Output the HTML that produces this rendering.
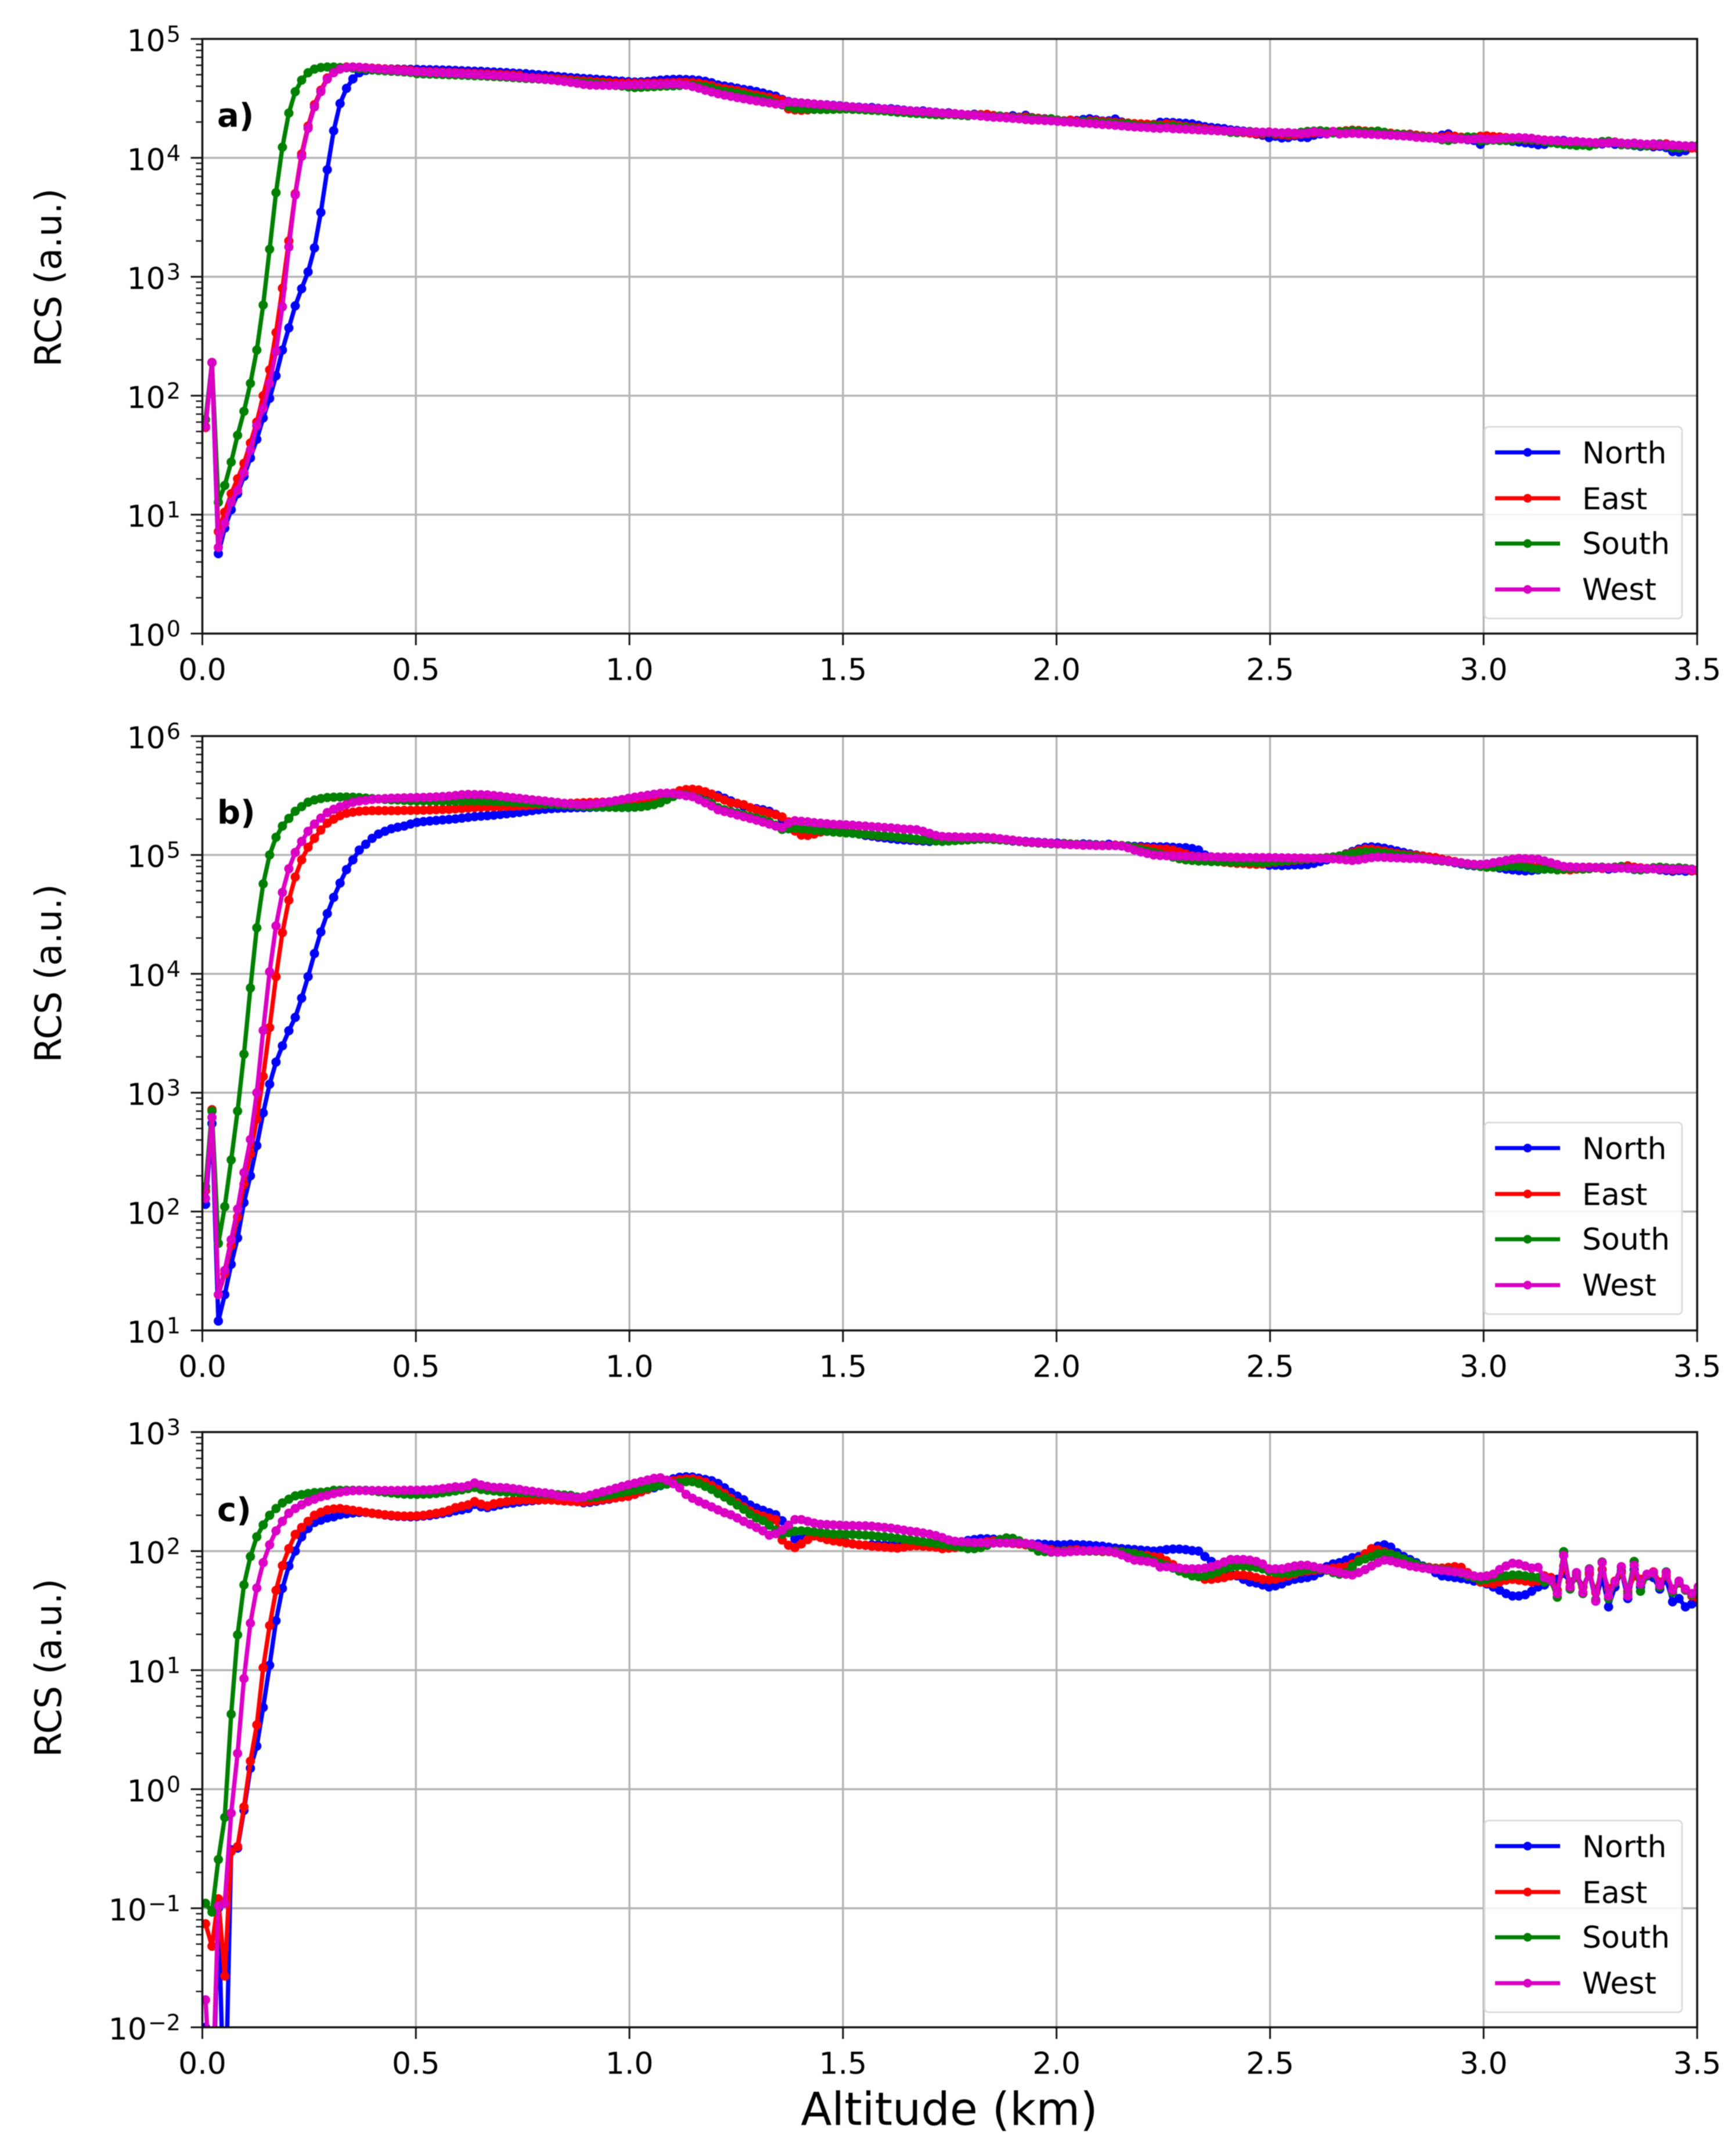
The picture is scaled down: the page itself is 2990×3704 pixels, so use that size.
<!DOCTYPE html>
<html lang="en">
<head>
<meta charset="utf-8">
<title>RCS versus altitude for four pointing directions</title>
<style>
html,body{margin:0;padding:0;background:#fff;width:2990px;height:3704px;overflow:hidden;}
#figure{display:block;width:2990px;height:3704px;overflow:hidden;filter:blur(0.7px);font-family:"DejaVu Sans","Liberation Sans",sans-serif;}
</style>
</head>
<body>
<svg id="figure" xmlns="http://www.w3.org/2000/svg" width="2990" height="3704" viewBox="0 0 2990 3704">
<rect x="0" y="0" width="2990" height="3704" fill="#ffffff"/>
<g id="panels"></g>
<text x="1635" y="3659" font-size="78" text-anchor="middle" fill="#000">Altitude (km)</text>
</svg>
<script>
const altitudesM = [
7.5,22.5,37.5,52.5,67.5,82.5,97.5,112.5,127.5,142.5,157.5,172.5,187.5,202.5,217.5,232.5,247.5,262.5,277.5,292.5,
307.5,322.5,337.5,352.5,367.5,382.5,397.5,412.5,427.5,442.5,457.5,472.5,487.5,502.5,517.5,532.5,547.5,562.5,577.5,592.5,
607.5,622.5,637.5,652.5,667.5,682.5,697.5,712.5,727.5,742.5,757.5,772.5,787.5,802.5,817.5,832.5,847.5,862.5,877.5,892.5,
907.5,922.5,937.5,952.5,967.5,982.5,997.5,1012.5,1027.5,1042.5,1057.5,1072.5,1087.5,1102.5,1117.5,1132.5,1147.5,1162.5,1177.5,1192.5,
1207.5,1222.5,1237.5,1252.5,1267.5,1282.5,1297.5,1312.5,1327.5,1342.5,1357.5,1372.5,1387.5,1402.5,1417.5,1432.5,1447.5,1462.5,1477.5,1492.5,
1507.5,1522.5,1537.5,1552.5,1567.5,1582.5,1597.5,1612.5,1627.5,1642.5,1657.5,1672.5,1687.5,1702.5,1717.5,1732.5,1747.5,1762.5,1777.5,1792.5,
1807.5,1822.5,1837.5,1852.5,1867.5,1882.5,1897.5,1912.5,1927.5,1942.5,1957.5,1972.5,1987.5,2002.5,2017.5,2032.5,2047.5,2062.5,2077.5,2092.5,
2107.5,2122.5,2137.5,2152.5,2167.5,2182.5,2197.5,2212.5,2227.5,2242.5,2257.5,2272.5,2287.5,2302.5,2317.5,2332.5,2347.5,2362.5,2377.5,2392.5,
2407.5,2422.5,2437.5,2452.5,2467.5,2482.5,2497.5,2512.5,2527.5,2542.5,2557.5,2572.5,2587.5,2602.5,2617.5,2632.5,2647.5,2662.5,2677.5,2692.5,
2707.5,2722.5,2737.5,2752.5,2767.5,2782.5,2797.5,2812.5,2827.5,2842.5,2857.5,2872.5,2887.5,2902.5,2917.5,2932.5,2947.5,2962.5,2977.5,2992.5,
3007.5,3022.5,3037.5,3052.5,3067.5,3082.5,3097.5,3112.5,3127.5,3142.5,3157.5,3172.5,3187.5,3202.5,3217.5,3232.5,3247.5,3262.5,3277.5,3292.5,
3307.5,3322.5,3337.5,3352.5,3367.5,3382.5,3397.5,3412.5,3427.5,3442.5,3457.5,3472.5,3487.5,3502.5
];

const seriesNames = ['North','East','South','West'];
const xTickValues = [0,0.5,1,1.5,2,2.5,3,3.5];
const xTickLabels = ['0.0','0.5','1.0','1.5','2.0','2.5','3.0','3.5'];
const yExponentsA = [0,1,2,3,4,5];
const yExponentsB = [1,2,3,4,5,6];
const yExponentsC = [-2,-1,0,1,2,3];

const northA = [
55,190,4.7,7.7,11,15,21,30,43,65,95,147,242,372,570,794,1100,1750,3480,7950,
16900,28600,38400,46100,52000,54300,55000,55500,55700,55800,55700,55600,55500,55400,55200,55100,54900,54800,54600,54300,
54000,53800,53500,53400,53000,52700,52400,52100,51700,51300,51000,50400,50000,49400,48900,48300,47900,47300,47000,46500,
46200,45800,45300,45000,44400,44100,43700,43400,43500,43800,44400,45000,45400,45600,45700,45500,45300,44900,44000,42800,
41000,40200,39400,38500,37600,37000,36100,35100,34000,33000,31000,29800,28800,28400,28300,28100,28000,27900,27700,27400,
27100,26800,26700,26400,26500,26100,25800,25900,25500,25200,24900,24700,24800,24400,24200,23800,23900,23500,23200,23000,
23300,22900,22700,22500,22400,22200,22600,22000,22800,21800,21500,21300,21100,20700,20500,20300,20600,21000,21300,20900,
20400,20500,21200,20000,19500,19300,19100,19000,19100,19900,19900,19800,19600,19500,19300,18800,18300,18000,17800,17600,
17200,17000,16800,16600,15800,15500,14800,15200,14700,14800,15300,14900,14800,15500,15900,16200,16300,16600,16700,16800,
16500,16700,16600,16300,16000,15900,15700,15500,15800,15400,15200,15000,14900,15500,15900,15200,14700,14200,14000,13000,
14000,14300,14400,14100,13800,13600,13400,13200,12900,13000,13800,14000,14000,13700,13500,13400,13300,13200,13100,13300,
13000,13000,12900,12700,12500,12600,12400,12500,12200,11300,11200,11500,12300,12500
];
const eastA = [
54,190,7.2,10.5,15,20,27,40,60,100,165,340,800,2000,5000,10800,18500,28000,37000,47000,
53000,57000,58000,58000,57500,57200,56800,56400,56000,55500,55200,54900,54500,53500,53200,53000,52800,52500,52300,52100,
51800,51500,51300,51000,50800,50500,50200,49900,49600,49300,47500,47300,47000,46700,46400,46100,45700,45200,44800,44300,
44000,43600,43300,43000,42700,42500,42500,42400,42300,42400,42500,42600,42800,43000,43200,43200,43000,42500,41500,40500,
39000,38200,37500,36800,35800,34500,33800,33000,32300,31400,30500,25800,25300,25100,25300,25600,25800,26000,26100,26000,
26000,25900,25700,25600,25400,25300,25000,24800,24500,24300,24000,23700,23500,23300,23100,23000,23200,23100,23200,22900,
23000,23100,23200,22700,22400,22100,22000,21900,22100,21700,21500,21200,21000,20700,20500,20800,20300,20200,20500,20400,
20200,20100,19900,19700,19600,19400,19300,19200,19000,18900,19300,19100,18700,18400,18100,17900,17600,17300,17100,16900,
16800,16500,16300,16100,16000,15900,16300,15800,15700,15500,15600,15800,16000,16200,16400,16500,16600,16700,16900,17100,
17000,16800,16700,16500,16300,16100,15900,15800,15700,15500,15300,15100,15000,14900,15300,15200,14900,14800,14900,15200,
15300,15100,15000,14800,14500,14300,14200,14100,14000,14100,14000,13800,13600,13500,13300,13100,12800,13200,13500,13700,
13600,13300,13000,12900,13000,12800,12700,12800,13100,12800,12600,12400,12100,11900
];
const southA = [
63,190,12.7,17.6,27.7,46.5,74,127,242,579,1706,5100,12300,23800,36000,45000,52000,55700,57500,58000,
58000,57500,57200,56800,56200,55600,54800,54300,53900,53500,53200,52800,52300,51000,50800,50600,50400,50200,50000,49800,
49600,49300,49000,48900,48600,48300,48000,47700,47300,46900,46500,46300,46000,45600,45200,44700,44200,43700,43300,42700,
42500,42000,41500,41000,40600,40200,39500,39000,39200,39500,39700,40000,40200,40300,40600,41000,40800,40200,39600,38600,
37000,36300,35700,35000,34000,33000,32200,31400,30500,29000,27900,27000,26000,25800,25700,25600,25500,25500,25600,25700,
25800,25600,25500,25300,25100,25000,24800,24500,24200,24100,23800,23600,23500,23300,23100,23000,23200,23000,22800,22600,
22900,22700,22300,22200,22500,21700,21800,21600,21400,21500,21200,21000,21300,20800,20400,20100,19800,20300,20000,19900,
19700,19600,19400,19200,19300,18800,18500,18400,18600,18500,18300,18500,18100,18000,17700,17400,17200,17000,16900,16800,
16400,16300,16500,16700,16500,16200,16300,16100,16200,16000,16100,16400,16700,16800,16900,16700,16200,16600,16700,16900,
16800,16500,16600,16800,16400,15800,15900,15700,15400,15200,15100,15000,14600,14200,14000,14300,14600,15000,14900,13900,
14000,14100,14000,14000,14000,14300,14400,14200,14100,13700,13400,13200,13000,12900,12700,12800,12600,13000,13700,13800,
13500,12900,13000,12800,12700,12600,13000,13100,12600,12200,12100,12300,12600,12700
];
const westA = [
55,190,5.3,8.5,12.7,16,22.5,35,56,78,127,236,560,1780,4880,10300,17700,26800,36000,46000,
52000,55700,57500,58000,57800,57300,56500,56000,55400,54900,54400,53900,53400,53000,52700,52400,52200,51900,51600,51400,
51000,50700,50400,50000,49700,49400,49000,48700,48300,47800,47300,46800,46300,45700,45200,44500,43900,43200,42400,41500,
41000,40800,40800,40700,40800,40900,41000,41100,41200,41300,41400,41500,41700,41800,41600,41000,39800,38500,37000,35800,
34600,33700,32900,32100,31400,30700,30100,29500,29000,28400,28300,29500,29300,29000,28700,28400,28100,27800,27500,27200,
27000,26800,26500,26300,26100,25900,25700,25500,25200,25000,24800,24600,24400,24300,24100,23800,23600,23500,23300,23000,
22800,22500,22200,22000,21900,21700,21500,21300,21000,20800,20800,20600,20500,20300,20100,20000,19800,19600,19500,19300,
19100,19000,18800,18600,18400,18200,18100,18000,17800,17700,17900,17600,17500,17400,17300,17200,17100,17000,16900,16900,
16800,16700,16600,16500,16500,16400,16500,16300,16200,16300,16100,16000,16200,16600,16300,15900,16700,15900,16000,16100,
16000,15900,15800,15700,15600,15500,15400,15300,15200,14900,14800,14700,14600,14500,14700,14500,14400,14300,14400,14500,
14400,14300,14500,14600,14700,14800,14700,14600,14300,14100,14000,13900,13800,13700,13800,13600,13500,13400,13300,13400,
13500,13300,13200,13300,13100,13000,13100,12900,12800,12800,12700,12600,12500,12500
];

const northB = [
115,550,12,20,36,60,119,200,359,676,1180,1810,2480,3320,4300,6240,9470,14800,22500,32100,
44000,58000,75300,91000,110000,123000,138000,150000,158000,166000,171000,175000,182000,188000,191000,193000,195000,197000,199000,201000,
204000,207000,210000,212000,214000,216000,219000,222000,225000,228000,232000,236000,240000,243000,245000,247000,248000,249000,250000,250000,
251000,252000,252000,253000,252000,251000,251000,252000,256000,262000,272000,288000,305000,322000,338000,347000,345000,338000,330000,322000,
316000,300000,285000,270000,257000,250000,245000,240000,233000,220000,201000,175000,160000,149000,150000,155000,158000,160000,158000,156000,
155000,153000,150000,146000,144000,141000,139000,137000,135000,134000,133000,132000,131000,130000,135000,138000,139000,140000,140000,141000,
141000,140000,139000,137000,135000,133000,131000,130000,130000,129000,128000,127000,126000,126000,125000,123000,122000,124000,123000,122000,
121000,123000,121000,120000,119000,118000,118000,117000,117000,117000,117000,116000,115000,115000,113000,110000,100000,95000,93000,91000,
90000,88000,87000,86000,85000,84000,82000,82000,81500,82000,82500,82500,83000,85000,88000,91000,94000,98000,102000,107000,
112000,116000,117000,116000,114000,111000,108000,105000,102000,100000,98000,96000,94000,92000,89000,86000,84000,82000,81000,80000,
80000,79000,77500,76000,75000,74000,73500,74000,75000,76000,77000,78000,78500,79000,78000,77500,78000,78500,77000,76000,
77000,78000,77000,75500,75000,76000,76500,75000,74000,73000,74000,73000,73500,74000
];
const eastB = [
150,720,20,30,52,90,170,306,600,1370,3530,9470,22200,41700,65300,91000,116000,138000,162000,185000,
200000,214000,224000,229000,233000,235000,236000,236000,236000,236000,236000,237000,237000,238000,238000,239000,240000,241000,242000,244000,
246000,248000,250000,252000,253000,254000,255000,256000,257000,259000,260000,262000,264000,266000,268000,270000,271000,272000,273000,275000,
276000,277000,278000,278000,279000,279000,280000,281000,283000,286000,292000,300000,316000,331000,347000,355000,357000,352000,340000,325000,
305000,290000,275000,272000,265000,250000,240000,233000,225000,218000,209000,190000,159000,147000,146000,150000,156000,158000,157000,155000,
154000,153000,151000,149000,147000,145000,144000,143000,141000,139000,137000,135000,134000,134000,135000,135000,136000,137000,138000,138000,
139000,140000,139000,137000,135000,134000,133000,131000,129000,128000,127000,126000,125000,124000,124000,123000,122000,121000,122000,121000,
120000,120000,121000,119000,118000,116000,115000,114000,113000,112000,112000,110000,106000,102000,98000,95000,92000,90000,88000,87000,
86000,85000,85000,84000,83500,84000,86000,87000,88000,89000,90000,91000,92000,93000,94000,95000,96000,98000,101000,105000,
109000,112000,112000,110000,108000,105000,103000,101000,100000,99000,98000,96000,95000,92000,90000,88000,86000,84000,82000,81000,
80000,79500,80000,80500,81000,81500,81000,80000,79000,79000,78000,76000,75500,75000,76000,77000,79000,78000,77000,78000,
79000,80000,81000,79000,78000,77000,78000,76000,76000,75000,76000,76000,74000,73000
];
const southB = [
162,700,54,110,272,700,2110,7600,24400,57100,100000,141000,175000,203000,233000,255000,278000,290000,298000,304000,
306000,307000,307000,306000,304000,301000,298000,296000,293000,291000,290000,288000,286000,285000,285000,284000,284000,283000,283000,283000,
283000,284000,284000,283000,283000,282000,281000,280000,278000,277000,275000,273000,271000,269000,267000,265000,263000,261000,259000,257000,
255000,254000,253000,252000,251000,251000,251000,252000,254000,258000,265000,275000,292000,310000,322000,320000,310000,298000,285000,270000,
250000,240000,232000,225000,218000,210000,205000,198000,190000,178000,164000,166000,168000,166000,164000,162000,160000,158000,156000,155000,
153000,152000,150000,149000,148000,146000,145000,143000,141000,140000,138000,136000,134000,133000,131000,130000,131000,132000,133000,134000,
135000,136000,136000,135000,134000,133000,132000,130000,128000,127000,126000,125000,124000,124000,125000,124000,123000,122000,122000,121000,
121000,120000,120000,120000,118000,115000,111000,108000,105000,102000,99000,96000,93000,91000,90000,89000,89000,88000,88000,88000,
87000,87000,87000,87000,86500,86000,87000,88000,89000,90000,91000,92000,92500,93000,94000,95000,96000,98000,100000,103000,
105000,106000,106000,105000,104000,102000,100000,99000,98000,96000,94000,92000,90000,89000,88000,87000,85000,83000,82000,80000,
79000,79000,79500,80000,80500,80000,79000,77000,76000,76000,76000,75000,76000,77000,77000,76000,76500,78000,79000,78000,
79000,80000,78000,76000,75000,76000,78000,79000,78000,77000,78000,77000,76000,75000
];
const westB = [
129,620,20,32,58,105,213,404,1000,3340,10400,25300,48400,76600,105000,130000,158000,182000,204000,227000,
242000,254000,266000,277000,284000,288000,293000,296000,298000,300000,301000,302000,303000,304000,305000,306000,308000,310000,312000,316000,
321000,323000,322000,321000,320000,316000,312000,307000,303000,299000,295000,291000,288000,284000,280000,276000,272000,269000,266000,265000,
267000,270000,275000,280000,286000,292000,299000,306000,312000,318000,324000,330000,331000,328000,322000,315000,309000,292000,275000,258000,
240000,232000,225000,217000,210000,203000,196000,189000,182000,175000,170000,185000,194000,192000,190000,187000,185000,183000,181000,180000,
179000,178000,176000,175000,173000,172000,170000,169000,167000,165000,164000,163000,158000,152000,146000,143000,142000,142000,141000,141000,
141000,141000,140000,139000,137000,135000,133000,131000,129000,128000,127000,126000,125000,124000,123000,122000,122000,121000,121000,120000,
120000,120000,120000,119000,115000,110000,106000,103000,100000,99000,98500,98000,97800,97500,97000,97000,96500,96500,96000,96000,
95500,95500,95000,95000,95000,95000,95000,94800,94600,94500,94300,94200,94000,93800,93500,93500,93000,92000,91000,90000,
91000,93000,95000,96000,95500,95000,94500,94000,93500,93500,93000,92000,91000,90000,88500,87000,86000,84500,83500,83200,
84000,86000,88000,90000,92000,93500,93000,92500,92000,89000,86000,83000,80000,79500,79000,78800,78500,78300,78200,78000,
77800,77600,77400,77200,77000,76800,76600,76400,76200,76000,75800,75600,75300,75000
];

const northC = [
0.01,1e-9,0.1,1e-9,0.31,0.32,0.665,1.5,2.3,4.86,11,26,48.6,75,100,132,155,174,182,190,
194,202,206,209,211,211,208,205,201,198,196,195,194,195,197,199,203,207,211,218,
222,228,247,236,232,238,245,251,253,258,262,265,268,270,269,268,267,265,262,255,
257,262,268,273,280,285,289,300,315,330,340,355,385,405,418,421,419,410,400,390,
370,340,311,290,270,244,230,220,210,202,180,158,127,128,132,139,135,130,125,122,
118,115,113,112,113,113,112,113,114,115,114,113,112,112,113,114,116,118,120,123,
125,127,127,126,125,123,120,118,116,115,115,114,113,113,113,114,113,113,112,111,
110,108,106,105,104,103,102,101,100,101,103,104,104,103,101,100,90,82,75,70,
65,62,58,55,54,52,50,51,53,56,58,59,60,62,66,74,78,80,84,88,
90,95,102,110,113,108,97,90,85,80,75,71,66,62,61,60,59,58,56,55,
53,50,47,44,42,42,43,46,50,52,60,58,65,55,63,50,66,38,62,34,
50,68,40,70,50,62,60,48,58,37.5,40,34,36,37
];
const eastC = [
0.074,0.048,0.12,0.027,0.30,0.33,0.71,1.72,3.47,10.5,23.7,46.8,75.5,105,138,158,178,200,212,222,
226,228,224,220,216,212,208,205,202,200,198,197,197,198,200,204,208,213,220,232,
238,245,261,248,240,250,256,261,266,268,270,270,270,270,269,267,264,262,260,258,
262,266,270,275,280,285,289,300,315,330,350,369,380,390,398,403,405,395,380,355,
330,305,278,255,235,218,205,197,190,184,124,112,107,115,125,134,130,125,122,120,
117,115,113,112,110,109,108,107,106,108,110,111,110,109,108,105,106,107,109,111,
115,118,120,122,121,118,116,115,113,110,108,105,103,100,101,102,103,101,100,100,
99,99,100,99,97,96,93,92,90,89,83,77,72,68,65,61,58,58,59,60,
62,63,63,62,60,58,57.6,58,60,62,64,67,68,69,70,71,72,73,74,78,
85,95,105,103,99,95,90,85,80,76,74,73,72,72,73,74,73,66,60,55,
54,53,55,57,58,57,56,55,56,62,60,47,75,55,60,50,64,45,70,48,
56,66,46,62,58,63,67,55,62,48,54,47,42,40
];
const southC = [
0.11,0.093,0.257,0.58,4.27,19.8,52,90,132,166,200,228,254,273,291,298,305,310,312,316,
324,324,324,324,324,324,320,316,312,308,304,301,300,300,301,302,305,310,315,320,
327,335,343,330,325,320,316,313,312,310,308,306,304,302,300,298,296,294,285,282,
283,285,290,296,303,310,317,325,332,338,348,358,365,372,378,383,383,370,350,330,
305,285,264,244,225,205,190,181,165,150,139,143,147,148,147,145,143,141,139,139,
138,138,137,136,135,133,132,130,128,126,124,122,120,118,116,114,112,110,108,105,
105,107,112,118,125,129,128,122,115,108,100,99,98,99,100,100,100,100,100,100,
100,100,99,98,97,95,92,88,83,79,76,72,68,65,62,61,62,64,67,71,
73,75,75,74,73,71,68,66,65,65,66,68,70,71,71,69,66,64,66,74,
82,86,90,95,96,94,91,86,82,78,74,72,71,70,69,67,65,62,60,57,
58,60,61,62,63,63,62,61,60,55,56,41,99,48,64,44,71,39,81,40,
54,73,44,82,46,63,65,50,67,45,55,47,43,47
];
const westC = [
0.017,0.002,0.105,0.11,0.63,2.0,8.5,24.8,49,80,113,148,178,208,228,245,261,273,286,294,
304,312,318,322,323,323,323,323,323,323,323,324,325,325,326,327,330,335,340,347,
345,355,374,360,350,343,342,340,335,330,322,318,312,308,303,292,288,286,280,285,
295,305,315,325,337,350,361,372,384,396,408,413,395,369,340,300,278,262,248,235,
222,210,202,190,178,168,158,148,136,140,150,165,184,184,178,172,168,167,166,165,
164,164,163,163,162,160,158,156,153,150,147,145,142,139,135,130,124,121,120,119,
118,118,117,117,117,117,117,117,116,114,110,105,99,98,98,99,100,100,101,101,
101,100,97,93,88,84,83,82,80,73.5,74,73,72,71,71,71,72,74,77,81,
85,85,85,84,82,78,71,71,71,73,75,76,76,74,72,70,68,66,64,63,
66,70,75,80,84,83,80,78,75,73.5,72,71,70,69,68,67,66,64,62,61,
62,64,70,75,79,78,75,72,73,60,57,44,92,50,66,45,70,38,80,42,
55,74,42,76,53,64,66,52,66,47,56,48,44,50
];

const SVG_NS = 'http://www.w3.org/2000/svg';
const PLOT_LEFT = 348.5;
const PLOT_RIGHT = 2923.1;
const X_MAX_KM = 3.5;
const OFFSCALE_MARGIN = 190;
const SERIES_COLORS = ['#0000ff','#ff0000','#008000','#d900c4'];
const SERIES_KEYS = ['north','east','south','west'];

function make(tag, parent, attrs) {
  const el = document.createElementNS(SVG_NS, tag);
  for (const k in attrs) el.setAttribute(k, attrs[k]);
  parent.appendChild(el);
  return el;
}
function xScale(km) {
  return PLOT_LEFT + (km / X_MAX_KM) * (PLOT_RIGHT - PLOT_LEFT);
}
function yScale(panel, value) {
  const exps = panel.exponents;
  const lo = exps[0], hi = exps[exps.length - 1];
  const safe = Math.max(value, 1e-9);
  const y = panel.bottom - (Math.log10(safe) - lo) / (hi - lo) * (panel.bottom - panel.top);
  return Math.min(y, panel.bottom + OFFSCALE_MARGIN);
}

function drawPanel(root, panel) {
  const g = make('g', root, {});
  
  

  const clip = make('clipPath', g, {id: 'clip-' + panel.id});
  make('rect', clip, {x: PLOT_LEFT, y: panel.top, width: PLOT_RIGHT - PLOT_LEFT, height: panel.bottom - panel.top});

  const grid = make('g', g, {stroke: '#b4b4b4', 'stroke-width': 3.4});
  
  
  xTickValues.forEach(function (v) {
    const x = xScale(v);
    const line = make('line', grid, {x1: x, x2: x, y1: panel.top, y2: panel.bottom});
    
    
  });
  panel.exponents.forEach(function (e) {
    const y = yScale(panel, Math.pow(10, e));
    const line = make('line', grid, {x1: PLOT_LEFT, x2: PLOT_RIGHT, y1: y, y2: y});
    
    
  });

  const plot = make('g', g, {'clip-path': 'url(#clip-' + panel.id + ')'});
  
  
  panel.series.forEach(function (values, s) {
    const color = SERIES_COLORS[s];
    const sg = make('g', plot, {});
    
    
    const pts = values.map(function (v, i) {
      return xScale(altitudesM[i] / 1000).toFixed(1) + ',' + yScale(panel, v).toFixed(1);
    }).join(' ');
    const line = make('polyline', sg, {points: pts, fill: 'none', stroke: color, 'stroke-width': 7.5, 'stroke-linejoin': 'round'});
    
    
    values.forEach(function (v, i) {
      const c = make('circle', sg, {cx: xScale(altitudesM[i] / 1000).toFixed(1), cy: yScale(panel, v).toFixed(1), r: 8, fill: color});
      
      
    });
  });

  const ticks = make('g', g, {stroke: '#111', fill: 'none'});
  
  
  xTickValues.forEach(function (v, i) {
    const x = xScale(v);
    const t = make('line', ticks, {x1: x, x2: x, y1: panel.bottom, y2: panel.bottom + 20, 'stroke-width': 3});
    
    
    const lab = make('text', g, {x: x, y: panel.bottom + 80, 'font-size': 52, 'text-anchor': 'middle', fill: '#000'});
    
    
    lab.textContent = xTickLabels[i];
  });
  panel.exponents.forEach(function (e, idx) {
    const y = yScale(panel, Math.pow(10, e));
    const t = make('line', ticks, {x1: PLOT_LEFT - 20, x2: PLOT_LEFT, y1: y, y2: y, 'stroke-width': 3});
    
    
    if (idx < panel.exponents.length - 1) {
      for (let m = 2; m <= 9; m++) {
        const my = yScale(panel, m * Math.pow(10, e));
        const mt = make('line', ticks, {x1: PLOT_LEFT - 11, x2: PLOT_LEFT, y1: my, y2: my, 'stroke-width': 2.4});
        
        
      }
    }
    const lab = make('text', g, {x: 311, y: y + 21, 'font-size': 52, 'text-anchor': 'end', fill: '#000'});
    
    
    const base = make('tspan', lab, {});
    base.textContent = '10';
    const sup = make('tspan', lab, {'font-size': 38, dy: -16, dx: 2});
    sup.textContent = String(e).replace('-', '\u2212');
  });

  const frame = make('rect', g, {x: PLOT_LEFT, y: panel.top, width: PLOT_RIGHT - PLOT_LEFT, height: panel.bottom - panel.top, fill: 'none', stroke: '#111', 'stroke-width': 3.4});
  
  

  const letter = make('text', g, {x: 374, y: panel.letterY, 'font-size': 56, 'font-weight': 'bold', fill: '#000'});
  
  
  letter.textContent = panel.id + ')';

  const yTitle = make('text', g, {x: 0, y: 0, 'font-size': 62, 'text-anchor': 'middle', fill: '#000', transform: 'translate(105 ' + panel.titleY + ') rotate(-90)'});
  
  
  yTitle.textContent = 'RCS (a.u.)';

  const legend = make('g', g, {});
  
  
  const lt = panel.bottom - panel.legendOffset;
  const box = make('rect', legend, {x: 2557, y: lt, width: 340, height: 330, rx: 7, fill: 'rgba(255,255,255,0.85)', stroke: '#dcdcdc', 'stroke-width': 3});
  
  
  const rowY = [44, 123, 201, 280];
  const rowText = [63, 142, 219, 298];
  seriesNames.forEach(function (name, s) {
    const entry = make('g', legend, {});
    
    
    const y = lt + rowY[s];
    const hl = make('line', entry, {x1: 2575, x2: 2687, y1: y, y2: y, stroke: SERIES_COLORS[s], 'stroke-width': 7});
    
    
    const hm = make('circle', entry, {cx: 2631, cy: y, r: 7.5, fill: SERIES_COLORS[s]});
    
    
    const tx = make('text', entry, {x: 2725, y: lt + rowText[s], 'font-size': 52, fill: '#000'});
    
    
    tx.textContent = name;
  });
}

const panelsRoot = document.getElementById('panels');
drawPanel(panelsRoot, {id: 'a', top: 67, bottom: 1091, letterY: 218, titleY: 478, legendOffset: 356, exponents: yExponentsA, series: [northA, eastA, southA, westA]});
drawPanel(panelsRoot, {id: 'b', top: 1267.5, bottom: 2291, letterY: 1418, titleY: 1676, legendOffset: 358, exponents: yExponentsB, series: [northB, eastB, southB, westB]});
drawPanel(panelsRoot, {id: 'c', top: 2466, bottom: 3491, letterY: 2619, titleY: 2872, legendOffset: 356, exponents: yExponentsC, series: [northC, eastC, southC, westC]});
</script>
</body>
</html>
